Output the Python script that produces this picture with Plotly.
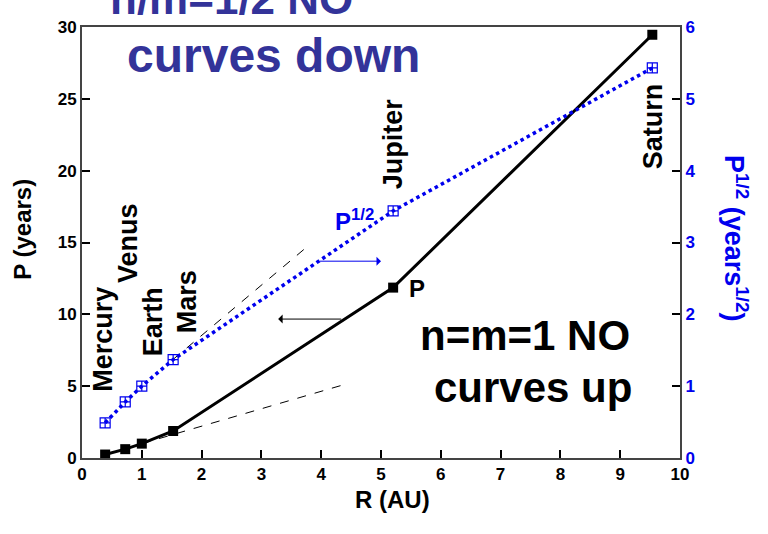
import plotly.graph_objects as go

planets = ["Mercury", "Venus", "Earth", "Mars", "Jupiter", "Saturn"]
R_au = [0.387, 0.723, 1.0, 1.524, 5.203, 9.537]
P_years = [0.241, 0.615, 1.0, 1.881, 11.86, 29.46]
sqrtP = [0.49, 0.78, 1.0, 1.37, 3.44, 5.43]

# dashed guide lines
guide_sqrt_x = [1.52, 3.82]
guide_sqrt_y = [1.37, 2.98]
guide_P_x = [1.0, 4.36]
guide_P_y = [1.0, 5.08]

# planet label centre points (R, P)
label_x = [0.35, 0.77, 1.19, 1.77, 5.2, 9.55]
label_y = [8.3, 14.96, 9.46, 10.9, 21.9, 23.1]

x_ticks = list(range(0, 11))
y_ticks = [0, 5, 10, 15, 20, 25, 30]
y2_ticks = [0, 1, 2, 3, 4, 5, 6]

FONT = "Arial, Liberation Sans, sans-serif"
BLUE = "#0000ee"
TITLE_BLUE = "#333399"

fig = go.Figure()

fig.add_trace(go.Scatter(x=guide_P_x, y=guide_P_y, mode="lines",
                         line=dict(color="black", width=1, dash="dash"), showlegend=False))
fig.add_trace(go.Scatter(x=guide_sqrt_x, y=guide_sqrt_y, mode="lines", yaxis="y2",
                         line=dict(color="black", width=1, dash="dash"), showlegend=False))
fig.add_trace(go.Scatter(x=R_au, y=P_years, mode="lines+markers",
                         line=dict(color="black", width=3),
                         marker=dict(symbol="square", size=10, color="black"),
                         showlegend=False))
fig.add_trace(go.Scatter(x=R_au, y=sqrtP, mode="lines+markers", yaxis="y2",
                         line=dict(color=BLUE, width=3.5, dash="dot"),
                         marker=dict(symbol="square-cross-open", size=10, color=BLUE,
                                     line=dict(width=1.2, color=BLUE)),
                         showlegend=False))

annotations = []
for name, lx, ly in zip(planets, label_x, label_y):
    annotations.append(dict(x=lx, y=ly, xref="x", yref="y", text=f"<b>{name}</b>", showarrow=False,
                            textangle=-90, font=dict(family=FONT, size=27, color="black"),
                            xanchor="center", yanchor="middle"))

annotations += [
    dict(x=5.6, y=11.8, xref="x", yref="y", text="<b>P</b>", showarrow=False,
         font=dict(family=FONT, size=24, color="black")),
    dict(x=4.55, y=16.6, xref="x", yref="y", text="<b>P<sup>1/2</sup></b>", showarrow=False,
         font=dict(family=FONT, size=24, color=BLUE)),
    dict(x=7.4, y=8.5, xref="x", yref="y", text="<b>n=m=1 NO</b>", showarrow=False,
         font=dict(family=FONT, size=42, color="black")),
    dict(x=7.55, y=4.9, xref="x", yref="y", text="<b>curves up</b>", showarrow=False,
         font=dict(family=FONT, size=42, color="black")),
    dict(x=0.25, y=1.066, xref="paper", yref="paper", text="<b>n/m=1/2 NO</b>", showarrow=False,
         font=dict(family=FONT, size=44, color=TITLE_BLUE), xanchor="center", yanchor="middle"),
    dict(x=0.32, y=0.935, xref="paper", yref="paper", text="<b>curves down</b>", showarrow=False,
         font=dict(family=FONT, size=48, color=TITLE_BLUE), xanchor="center", yanchor="middle"),
    # arrows
    dict(x=3.28, y=9.67, ax=4.36, ay=9.67, xref="x", yref="y", axref="x", ayref="y",
         showarrow=True, arrowhead=1, arrowsize=1.5, arrowwidth=1, arrowcolor="black", text=""),
    dict(x=5.0, y=2.74, ax=3.95, ay=2.74, xref="x", yref="y2", axref="x", ayref="y2",
         showarrow=True, arrowhead=1, arrowsize=1.5, arrowwidth=1, arrowcolor=BLUE, text=""),
    # axis titles
    dict(x=-0.1, y=0.53, xref="paper", yref="paper", text="<b>P (years)</b>", showarrow=False,
         textangle=-90, xanchor="center", yanchor="middle",
         font=dict(family=FONT, size=24, color="black")),
    dict(x=1.094, y=0.51, xref="paper", yref="paper",
         text="<b>P<sup>1/2</sup> (years<sup>1/2</sup>)</b>", showarrow=False,
         textangle=90, xanchor="center", yanchor="middle",
         font=dict(family=FONT, size=27, color=BLUE)),
    dict(x=0.52, y=-0.097, xref="paper", yref="paper", text="<b>R (AU)</b>", showarrow=False,
         xanchor="center", yanchor="middle",
         font=dict(family=FONT, size=24, color="black")),
]

fig.update_layout(
    width=768, height=534,
    margin=dict(l=82, r=88, t=27, b=76),
    paper_bgcolor="white", plot_bgcolor="white",
    font=dict(family=FONT, color="black"),
    annotations=annotations,
    xaxis=dict(range=[0, 10], tickvals=x_ticks, ticktext=[f"<b>{v}</b>" for v in x_ticks],
               ticks="inside", ticklen=8, tickwidth=1.5, tickcolor="black",
               showline=True, linecolor="#444", linewidth=2, mirror=True,
               showgrid=False, zeroline=False, tickfont=dict(size=17, family=FONT)),
    yaxis=dict(range=[0, 30], tickvals=y_ticks, ticktext=[f"<b>{v}</b>" for v in y_ticks],
               ticks="inside", ticklen=8, tickwidth=1.5, tickcolor="black",
               showline=True, linecolor="#444", linewidth=2,
               showgrid=False, zeroline=False, tickfont=dict(size=17, family=FONT)),
    yaxis2=dict(range=[0, 6], tickvals=y2_ticks, ticktext=[f"<b>{v}</b>" for v in y2_ticks],
                overlaying="y", side="right",
                ticks="inside", ticklen=8, tickwidth=1.5, tickcolor="black",
                showline=True, linecolor="#444", linewidth=2,
                showgrid=False, zeroline=False,
                tickfont=dict(size=17, family=FONT, color=BLUE)),
)

fig.write_html("out.html", config={"displayModeBar": False},
               post_script="document.body.style.margin='0';")
